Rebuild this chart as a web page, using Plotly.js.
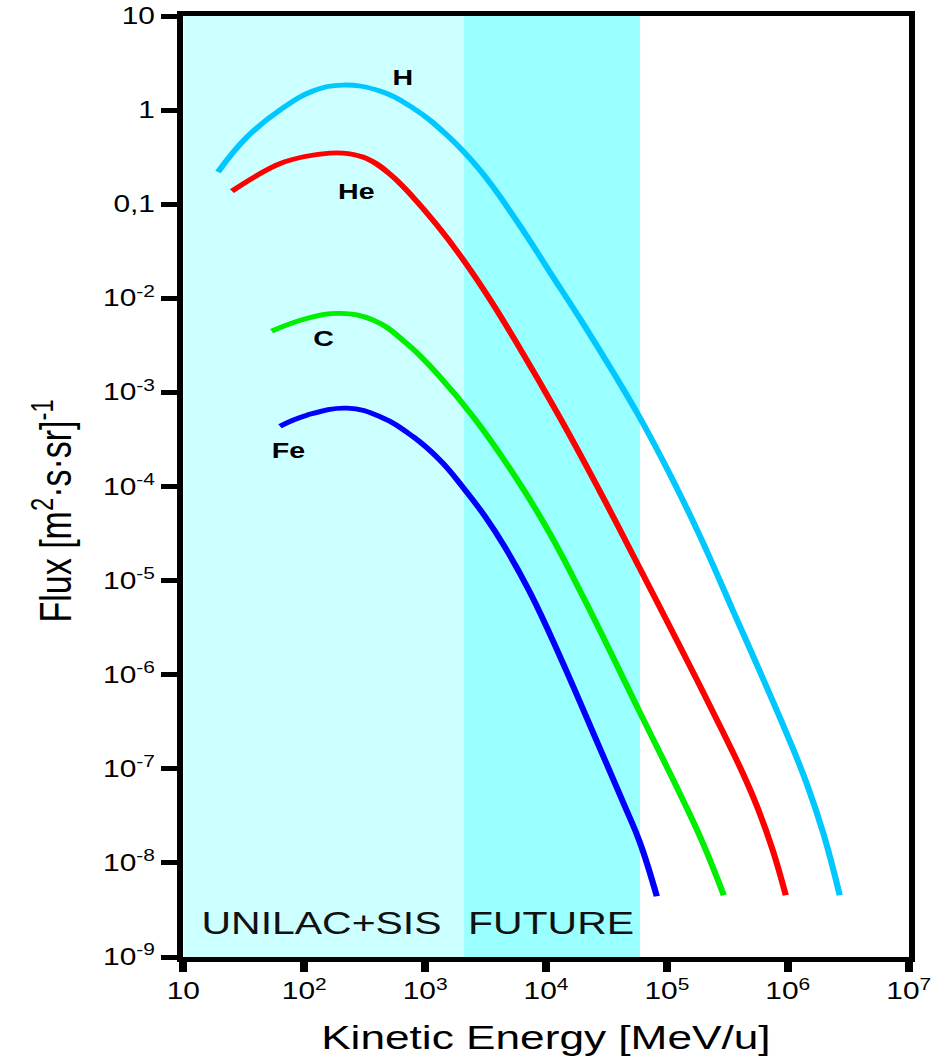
<!DOCTYPE html>
<html>
<head>
<meta charset="utf-8">
<script src="https://cdn.plot.ly/plotly-3.0.1.min.js"></script>
<style>
  html, body { margin: 0; padding: 0; background: #ffffff; overflow: hidden; }
  #wrap { width: 949px; height: 1062px; overflow: hidden; }
  #plot { width: 730px; height: 1062px; transform: scaleX(1.3); transform-origin: 0 0; }
</style>
</head>
<body>
<div id="wrap"><div id="plot"></div></div>
<script>
// ---- data ----
var hEnergy  = [19.36, 33.63, 63.07, 118.1, 209.2, 422.9, 793, 1514, 2839, 5741, 10760, 20170, 37100, 59700, 105700, 187100, 350700, 586300, 980000, 1435000, 1983000, 2689000];
var hFlux    = [0.2197, 0.5173, 1.002, 1.595, 1.847, 1.595, 1.052, 0.543, 0.2306, 0.0662, 0.0190, 5.45e-3, 1.527e-3, 5.39e-4, 1.353e-4, 3.00e-5, 4.85e-6, 1.089e-6, 2.36e-7, 6.94e-8, 1.99e-8, 4.53e-9];

var heEnergy = [25.27, 39.92, 63.07, 101.4, 163.3, 230, 330.3, 511.7, 793, 1252, 1940, 3305, 5741, 13020, 27880, 59700, 127800, 248900, 424200, 564400, 750900, 962000];
var heFlux   = [0.1379, 0.1991, 0.2704, 0.3209, 0.3497, 0.3455, 0.3056, 0.2091, 0.1191, 0.0600, 0.02879, 0.01055, 3.33e-3, 5.41e-4, 8.90e-5, 1.349e-5, 2.008e-6, 3.68e-7, 8.99e-8, 3.81e-8, 1.363e-8, 4.53e-9];

var cEnergy  = [53.8, 104.8, 197.5, 372.4, 703.4, 1326, 2499, 5708, 10760, 20290, 59700, 136100, 201900, 295400];
var cFlux    = [4.48e-3, 6.11e-3, 6.91e-3, 5.87e-3, 3.32e-3, 1.464e-3, 5.50e-4, 1.212e-4, 3.17e-5, 6.71e-6, 3.99e-7, 4.63e-8, 1.54e-8, 4.53e-9];

var feEnergy = [63.07, 105.4, 225.7, 422.9, 793, 1326, 2054, 3121, 4569, 7354, 13020, 27880, 44870, 59700, 82500];
var feFlux   = [4.38e-4, 5.73e-4, 6.81e-4, 5.53e-4, 3.39e-4, 1.905e-4, 9.84e-5, 4.84e-5, 2.27e-5, 7.53e-6, 1.572e-6, 1.654e-7, 4.00e-8, 1.657e-8, 4.42e-9];

var seriesNames = ["H", "He", "C", "Fe"];
var labelE      = [655, 268, 146, 73.5];
var labelFlux   = [2.22, 0.138, 3.78e-3, 2.43e-4];

var regionNames = ["UNILAC+SIS", "FUTURE"];
var regionStart = [10, 2100];
var regionEnd   = [2100, 60000];
var regionTextE = [140, 11070];
var regionTextFlux = [2.28e-9, 2.28e-9];

var xTickVals = [10, 1e2, 1e3, 1e4, 1e5, 1e6, 1e7];
var xTickText = ["10", "10<sup>2</sup>", "10<sup>3</sup>", "10<sup>4</sup>", "10<sup>5</sup>", "10<sup>6</sup>", "10<sup>7</sup>"];
var yTickVals = [1e-9, 1e-8, 1e-7, 1e-6, 1e-5, 1e-4, 1e-3, 1e-2, 0.1, 1, 10];
var yTickText = ["10<sup>-9</sup>", "10<sup>-8</sup>", "10<sup>-7</sup>", "10<sup>-6</sup>", "10<sup>-5</sup>", "10<sup>-4</sup>", "10<sup>-3</sup>", "10<sup>-2</sup>", "0,1", "1", "10"];

// ---- styles ----
var FONT = "Liberation Sans, Arial, Helvetica, sans-serif";
var colors = ["#00C8FF", "#FF0000", "#00EE00", "#0000FF"];
var regionColors = ["#CCFFFF", "#99FFFF"];

var xs = [hEnergy, heEnergy, cEnergy, feEnergy];
var ys = [hFlux, heFlux, cFlux, feFlux];

var traces = [];
for (var i = 0; i < 4; i++) {
  traces.push({
    x: xs[i], y: ys[i], name: seriesNames[i],
    type: "scatter", mode: "lines",
    line: { color: colors[i], width: 4.8, shape: "spline", smoothing: 1.2 },
    hoverinfo: "skip"
  });
}

var shapes = [];
for (var r = 0; r < regionStart.length; r++) {
  shapes.push({
    type: "rect", xref: "x", yref: "paper",
    x0: regionStart[r], x1: regionEnd[r], y0: 0, y1: 1,
    fillcolor: regionColors[r], line: { width: 0 }, layer: "below"
  });
}

var annotations = [];
for (var k = 0; k < 4; k++) {
  annotations.push({
    x: Math.log10(labelE[k]), y: Math.log10(labelFlux[k]), xref: "x", yref: "y",
    text: "<b>" + seriesNames[k] + "</b>", showarrow: false,
    font: { family: FONT, size: 22, color: "#000000" },
    xanchor: "center", yanchor: "middle"
  });
}
for (var m = 0; m < regionNames.length; m++) {
  annotations.push({
    x: Math.log10(regionTextE[m]), y: Math.log10(regionTextFlux[m]), xref: "x", yref: "y",
    text: regionNames[m], showarrow: false,
    font: { family: FONT, size: 31.5, color: "#111111" },
    xanchor: "center", yanchor: "middle"
  });
}
// axis titles
annotations.push({
  x: 0.5, y: -0.085, xref: "paper", yref: "paper",
  text: "Kinetic Energy [MeV/u]", showarrow: false,
  font: { family: FONT, size: 34, color: "#000000" },
  xanchor: "center", yanchor: "middle"
});
annotations.push({
  x: -0.18, y: 0.474, xref: "paper", yref: "paper",
  text: "Flux [m<sup>2</sup>·s·sr]<sup>-1</sup>", showarrow: false, textangle: -90,
  font: { family: FONT, size: 34, color: "#000000" },
  xanchor: "center", yanchor: "middle"
});

var layout = {
  width: 730, height: 1062,
  margin: { l: 141, r: 30.8, t: 16, b: 105.3, pad: 0 },
  paper_bgcolor: "#ffffff", plot_bgcolor: "#ffffff",
  showlegend: false,
  font: { family: FONT, color: "#000000" },
  xaxis: {
    type: "log", range: [1, 7], autorange: false,
    showline: true, linecolor: "#000000", linewidth: 4.5, mirror: true,
    ticks: "outside", ticklen: 10, tickwidth: 6, tickcolor: "#000000",
    tickmode: "array", tickvals: xTickVals, ticktext: xTickText,
    tickfont: { family: FONT, size: 23, color: "#000000" },
    showgrid: false, zeroline: false
  },
  yaxis: {
    type: "log", range: [-9, 1], autorange: false,
    showline: true, linecolor: "#000000", linewidth: 5.4, mirror: true,
    ticks: "outside", ticklen: 12, tickwidth: 5, tickcolor: "#000000",
    tickmode: "array", tickvals: yTickVals, ticktext: yTickText,
    tickfont: { family: FONT, size: 23, color: "#000000" },
    showgrid: false, zeroline: false
  },
  shapes: shapes,
  annotations: annotations
};

Plotly.newPlot("plot", traces, layout, { displayModeBar: false });
</script>
</body>
</html>
